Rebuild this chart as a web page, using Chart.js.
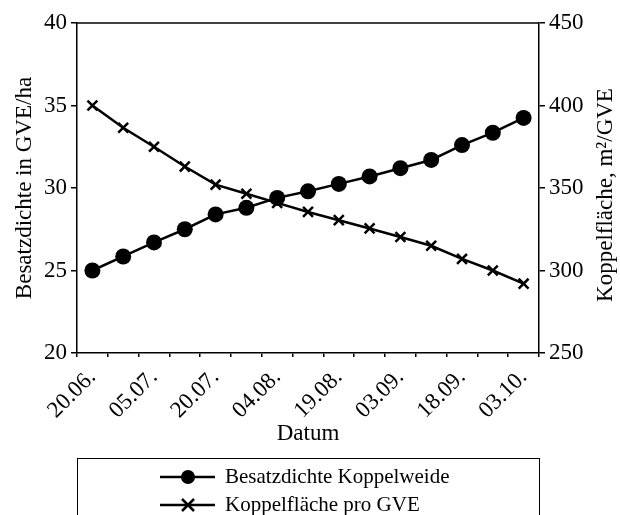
<!DOCTYPE html>
<html>
<head>
<meta charset="utf-8">
<script src="https://cdn.jsdelivr.net/npm/chart.js@4/dist/chart.umd.min.js"></script>
<style>
  html, body { margin: 0; padding: 0; background: #fff; }
  #wrap { width: 620px; height: 515px; }
</style>
</head>
<body>
<div id="wrap"><canvas id="chart" width="620" height="515"></canvas></div>
<script>
/* ---------- data ---------- */
const dates = ['20.06.', '', '05.07.', '', '20.07.', '', '04.08.', '', '19.08.', '', '03.09.', '', '18.09.', '', '03.10.'];
const besatzdichte = [25.0, 25.85, 26.7, 27.5, 28.4, 28.8, 29.4, 29.8, 30.25, 30.7, 31.2, 31.7, 32.6, 33.35, 34.25];
const koppelflaeche = [400, 386.5, 375, 363, 352, 346.5, 341, 335.5, 330.5, 325.5, 320.3, 315, 307, 300, 292];

const leftTicks  = { min: 20,  max: 40,  step: 5 };
const rightTicks = { min: 250, max: 450, step: 50 };

const FONT = 'Liberation Serif, Times New Roman, serif';
const INK  = '#000';
const FS   = 23;   // axis text size

/* ---------- helpers ---------- */
// Draws the top frame line, the right-hand title (bottom-to-top) and the boxed legend
const framePlugin = {
  id: 'frame',
  afterDraw(chart) {
    const { ctx, chartArea: a } = chart;
    ctx.save();
    ctx.strokeStyle = INK;
    ctx.lineWidth = 1.5;
    ctx.beginPath();
    ctx.moveTo(a.left, a.top);
    ctx.lineTo(a.right, a.top);
    ctx.stroke();

    // right axis title
    ctx.fillStyle = INK;
    ctx.font = `${FS}px ${FONT}`;
    ctx.textAlign = 'center';
    ctx.textBaseline = 'middle';
    ctx.translate(606, 195);
    ctx.rotate(-Math.PI / 2);
    ctx.fillText('Koppelfläche, m²/GVE', 0, 0);
    ctx.restore();

    // legend
    ctx.save();
    ctx.strokeStyle = INK;
    ctx.lineWidth = 1;
    ctx.strokeRect(a.left + 0.5, 458.5, a.right - a.left, 80);
    chart.data.datasets.forEach((ds, i) => {
      const y = 477 + i * 28;
      ctx.strokeStyle = INK;
      ctx.lineWidth = 2.5;
      ctx.beginPath();
      ctx.moveTo(160, y);
      ctx.lineTo(215, y);
      ctx.stroke();
      if (ds.pointStyle === 'circle') {
        ctx.fillStyle = INK;
        ctx.beginPath();
        ctx.arc(188, y, 7, 0, Math.PI * 2);
        ctx.fill();
      } else {
        const r = 6;
        ctx.beginPath();
        ctx.moveTo(188 - r, y - r); ctx.lineTo(188 + r, y + r);
        ctx.moveTo(188 - r, y + r); ctx.lineTo(188 + r, y - r);
        ctx.stroke();
      }
      ctx.fillStyle = INK;
      ctx.font = `21px ${FONT}`;
      ctx.textAlign = 'left';
      ctx.textBaseline = 'middle';
      ctx.fillText(ds.label, 225, y);
    });
    ctx.restore();
  }
};

const axisGrid = {
  display: true,
  drawOnChartArea: false,
  drawTicks: true,
  tickLength: 6,
  color: INK,
  lineWidth: 1.5
};

/* ---------- chart ---------- */
new Chart(document.getElementById('chart').getContext('2d'), {
  type: 'line',
  data: {
    labels: dates,
    datasets: [
      {
        label: 'Besatzdichte Koppelweide',
        data: besatzdichte,
        yAxisID: 'y',
        borderColor: INK,
        backgroundColor: INK,
        borderWidth: 2.5,
        pointStyle: 'circle',
        pointRadius: 8,
        pointBorderWidth: 0,
        tension: 0
      },
      {
        label: 'Koppelfläche pro GVE',
        data: koppelflaeche,
        yAxisID: 'y1',
        borderColor: INK,
        backgroundColor: INK,
        borderWidth: 2.5,
        pointStyle: 'crossRot',
        pointRadius: 7,
        pointBorderWidth: 2.5,
        tension: 0
      }
    ]
  },
  options: {
    responsive: false,
    animation: false,
    events: [],
    layout: { padding: { top: 23, bottom: 67, left: 0, right: 0 } },
    plugins: {
      legend:  { display: false },
      tooltip: { enabled: false }
    },
    scales: {
      x: {
        offset: true,
        grid: { ...axisGrid, offset: true, tickLength: 4 },
        border: { display: true, color: INK, width: 1.5 },
        ticks: {
          autoSkip: false,
          minRotation: 45,
          maxRotation: 45,
          padding: 7,
          color: INK,
          font: { family: FONT, size: FS }
        },
        title: {
          display: true,
          text: 'Datum',
          color: INK,
          padding: { top: 0, bottom: 0 },
          font: { family: FONT, size: FS }
        },
        afterFit(scale) { scale.height = 95; }
      },
      y: {
        position: 'left',
        min: leftTicks.min,
        max: leftTicks.max,
        grid: axisGrid,
        border: { display: true, color: INK, width: 1.5 },
        ticks: {
          stepSize: leftTicks.step,
          padding: 4,
          color: INK,
          font: { family: FONT, size: FS }
        },
        title: {
          display: true,
          text: 'Besatzdichte in GVE/ha',
          color: INK,
          padding: { top: 11, bottom: 0 },
          font: { family: FONT, size: FS }
        },
        afterFit(scale) { scale.width = 77; }
      },
      y1: {
        position: 'right',
        min: rightTicks.min,
        max: rightTicks.max,
        grid: axisGrid,
        border: { display: true, color: INK, width: 1.5 },
        ticks: {
          stepSize: rightTicks.step,
          padding: 4,
          color: INK,
          font: { family: FONT, size: FS }
        },
        afterFit(scale) { scale.width = 81; }
      }
    }
  },
  plugins: [framePlugin]
});
</script>
</body>
</html>
